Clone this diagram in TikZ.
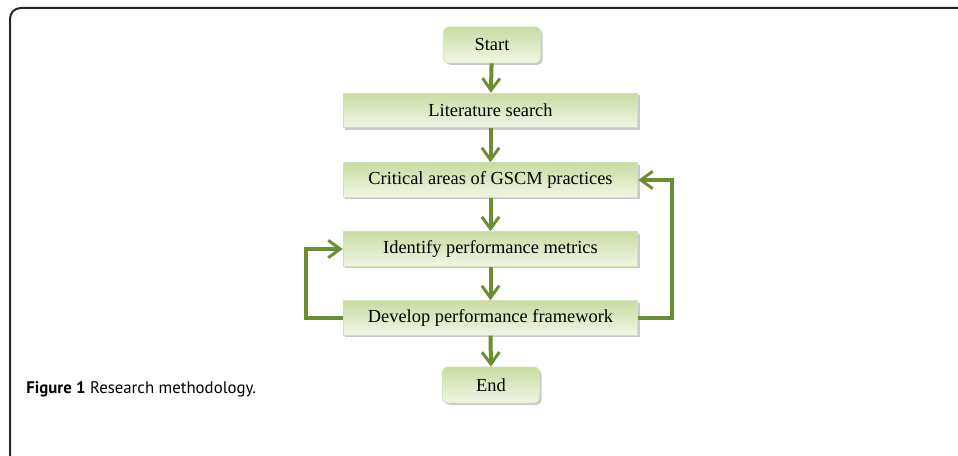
\documentclass[tikz,border=0pt]{standalone}
\usepackage{fontspec}
\setmainfont{Liberation Serif}
\newfontfamily\capfont{PT Sans}
\usetikzlibrary{arrows.meta,shadows}
\definecolor{arrgreen}{HTML}{6A8F32}
\definecolor{boxtop}{HTML}{C9DCA2}
\definecolor{boxbot}{HTML}{F1F6E6}
\definecolor{boxline}{HTML}{D2E2B4}
\tikzset{
  px/.style={x=0.75pt,y=-0.75pt},
  flowbox/.style={draw=boxline, line width=0.6pt, top color=boxtop, bottom color=boxbot,
    drop shadow={shadow xshift=1.5pt, shadow yshift=-1.5pt, fill=black!35, opacity=0.6},
    inner sep=0pt, font=\fontsize{13.8}{16}\selectfont},
  widebox/.style={flowbox, minimum width=221pt, minimum height=26pt},
  termbox/.style={flowbox, rounded corners=4pt, minimum width=73pt, minimum height=27pt},
  flowarrow/.style={draw=arrgreen, line width=3pt, -{Straight Barb[length=9pt,width=13pt,line width=2.2pt]}},
}
\begin{document}
\begin{tikzpicture}[px]
\useasboundingbox (0,0) rectangle (958,456);
\draw[line width=1.5pt, black!85, rounded corners=8pt] (960,8) -- (10,8) -- (10,458);
\node[termbox] (start) at (492,45) {Start};
\node[widebox] (lit) at (490.5,110.5) {Literature search};
\node[widebox] (crit) at (490.5,180) {Critical areas of GSCM practices};
\node[widebox] (ident) at (490.5,249) {Identify performance metrics};
\node[widebox] (dev) at (490.5,318) {Develop performance framework};
\node[termbox] (end) at (491,385) {End};
\draw[flowarrow] (start) -- (lit);
\draw[flowarrow] (lit) -- (crit);
\draw[flowarrow] (crit) -- (ident);
\draw[flowarrow] (ident) -- (dev);
\draw[flowarrow] (dev) -- (end);
\coordinate (lx) at (306,0);
\coordinate (rx) at (672,0);
\draw[flowarrow] (dev.west) -- (dev.west -| lx) -- (ident.west -| lx) -- (ident.west);
\draw[flowarrow] (dev.east) -- (dev.east -| rx) -- (crit.east -| rx) -- (crit.east);
\node[anchor=base west, font=\capfont\fontsize{12.6}{15}\selectfont, inner sep=0pt] (cap) at (26,393) {\textbf{Figure 1} Research methodology.};
\end{tikzpicture}
\end{document}
